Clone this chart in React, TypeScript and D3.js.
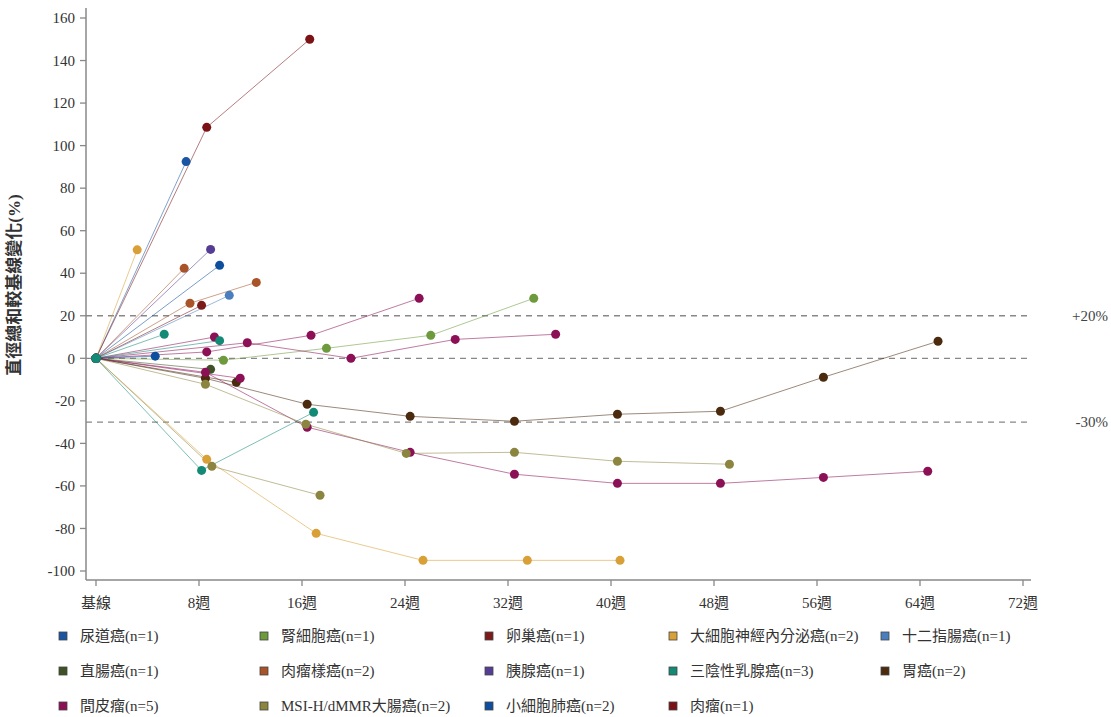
import React from 'react';
import * as d3 from 'd3';

// legend categories and their colours
const cancers = [
  '尿道癌(n=1)', '腎細胞癌(n=1)', '卵巢癌(n=1)', '大細胞神經內分泌癌(n=2)', '十二指腸癌(n=1)',
  '直腸癌(n=1)', '肉瘤樣癌(n=2)', '胰腺癌(n=1)', '三陰性乳腺癌(n=3)', '胃癌(n=2)',
  '間皮瘤(n=5)', 'MSI-H/dMMR大腸癌(n=2)', '小細胞肺癌(n=2)', '肉瘤(n=1)',
];
const colors = [
  '#1a55a3', '#6c9a3c', '#7c1a1a', '#d9a037', '#4a7fbf',
  '#3f5226', '#a85428', '#553c94', '#128a76', '#4b2a0e',
  '#8b1056', '#8c8540', '#0d4f9e', '#7b1315',
];

// [week, % change] per patient
const urothelial = [[0, 0], [7.0, 92.5]];
const renal = [[0, 0], [9.9, -0.9], [17.9, 4.7], [26, 10.8], [34, 28.2]];
const ovarian = [[0, 0], [8.2, 24.9]];
const lcnec1 = [[0, 0], [3.2, 51]];
const lcnec2 = [[0, 0], [8.6, -47.5], [17.1, -82.3], [25.4, -95], [33.5, -95], [40.7, -95]];
const duodenal = [[0, 0], [10.35, 29.6]];
const rectal = [[0, 0], [8.9, -5.2]];
const sarcomatoid1 = [[0, 0], [6.85, 42.3]];
const sarcomatoid2 = [[0, 0], [7.3, 25.9], [12.45, 35.7]];
const pancreatic = [[0, 0], [8.9, 51.2]];
const tnbc1 = [[0, 0], [5.3, 11.3]];
const tnbc2 = [[0, 0], [9.6, 8.3]];
const tnbc3 = [[0, 0], [8.2, -52.7], [16.9, -25.4]];
const gastric1 = [[0, 0], [10.9, -11.3]];
const gastric2 = [[0, 0], [8.5, -9.4], [16.4, -21.6], [24.4, -27.3], [32.5, -29.6], [40.5, -26.3], [48.5, -24.9], [56.5, -8.9], [65.4, 8.0]];
const meso1 = [[0, 0], [11.75, 7.3], [19.8, 0], [27.9, 8.9], [35.7, 11.3]];
const meso2 = [[0, 0], [8.6, 3.0], [16.7, 10.8], [25.1, 28.2]];
const meso3 = [[0, 0], [9.2, 10]];
const meso4 = [[0, 0], [11.2, -9.4]];
const meso5 = [[0, 0], [8.5, -6.6], [16.4, -32.4], [24.4, -44.2], [32.5, -54.5], [40.5, -58.8], [48.5, -58.8], [56.5, -56], [64.6, -53.1]];
const msi1 = [[0, 0], [8.5, -12.2], [16.3, -31], [24.1, -44.7], [32.5, -44.2], [40.5, -48.4], [49.2, -49.8]];
const msi2 = [[0, 0], [9.0, -50.8], [17.4, -64.4]];
const sclc1 = [[0, 0], [9.6, 43.7]];
const sclc2 = [[0, 0], [4.6, 1]];
const sarcoma = [[0, 0], [8.6, 108.6], [16.6, 150]];

// [legend index, data]
const patients: [number, number[][]][] = [
  [0, urothelial], [1, renal], [2, ovarian], [3, lcnec1], [3, lcnec2], [4, duodenal],
  [5, rectal], [6, sarcomatoid1], [6, sarcomatoid2], [7, pancreatic],
  [9, gastric1], [9, gastric2], [10, meso1], [10, meso2], [10, meso3], [10, meso4], [10, meso5],
  [11, msi1], [11, msi2], [12, sclc1], [12, sclc2], [13, sarcoma],
  [8, tnbc1], [8, tnbc2], [8, tnbc3],
];

const xTicks = [0, 8, 16, 24, 32, 40, 48, 56, 64, 72];
const xTickLabels = ['基線', '8週', '16週', '24週', '32週', '40週', '48週', '56週', '64週', '72週'];
const yTicks = [160, 140, 120, 100, 80, 60, 40, 20, 0, -20, -40, -60, -80, -100];
const refLines = [20, 0, -30];
const refLabels = ['+20%', '', '-30%'];

const font = "'Liberation Serif', 'Times New Roman', 'DejaVu Serif', 'Noto Sans CJK TC', serif";

const App = () => {
  const width = 1111;
  const height = 717;
  const axisX = 86;
  const axisY = 580;

  const x = d3.scaleLinear().domain([0, 72]).range([96, 1023]);
  const y = d3.scaleLinear().domain([-100, 160]).range([571, 18]);
  const line = d3.line<number[]>().x(d => x(d[0])).y(d => y(d[1]));

  const legendCols = [63, 264, 489, 673, 885];
  const legendRows = [636, 671, 706];

  return (
    <svg width={width} height={height} fontFamily={font} style={{ position: 'absolute', left: 0, top: 0 }}>
      {/* reference lines */}
      {refLines.map((r, i) => (
        <g key={'ref' + i}>
          <line x1={axisX} x2={r === 0 ? 1032 : 1029} y1={y(r)} y2={y(r)}
            stroke="#888" strokeWidth={1.3} strokeDasharray="6,5" />
          {refLabels[i] && (
            <text x={1108} y={y(r)} dy="0.35em" textAnchor="end" fontSize={15} fill="#444" fontFamily={font}>{refLabels[i]}</text>
          )}
        </g>
      ))}

      {/* axes */}
      <line x1={axisX} x2={axisX} y1={8} y2={axisY} stroke="#888" strokeWidth={1.5} />
      <line x1={axisX} x2={1031} y1={axisY} y2={axisY} stroke="#888" strokeWidth={1.5} />
      {yTicks.map(t => (
        <g key={'y' + t}>
          <line x1={axisX - 6} x2={axisX} y1={y(t)} y2={y(t)} stroke="#888" strokeWidth={1.3} />
          <text x={axisX - 11} y={y(t)} dy="0.35em" textAnchor="end" fontSize={15} fill="#333" fontFamily={font}>{t}</text>
        </g>
      ))}
      {xTicks.map((t, i) => (
        <g key={'x' + t}>
          <line x1={x(t)} x2={x(t)} y1={axisY} y2={axisY + 6} stroke="#888" strokeWidth={1.3} />
          <text x={x(t)} y={axisY + 28} textAnchor="middle" fontSize={15} fill="#333" fontFamily={font}>{xTickLabels[i]}</text>
        </g>
      ))}
      <text transform={`translate(20, 285) rotate(-90)`} textAnchor="middle" fontSize={17}
        fontWeight="bold" fill="#333" fontFamily={font}>直徑總和較基線變化(%)</text>

      {/* patient lines */}
      {patients.map(([c, d], i) => (
        <path key={'l' + i} d={line(d) || ''} fill="none" stroke={colors[c]} strokeOpacity={0.55} strokeWidth={1} />
      ))}
      {patients.map(([c, d], i) => (
        <g key={'p' + i}>
          {d.map((p, j) => (
            <circle key={j} cx={x(p[0])} cy={y(p[1])} r={4.5} fill={colors[c]} />
          ))}
        </g>
      ))}

      {/* legend */}
      {cancers.map((name, i) => {
        const lx = legendCols[i % 5];
        const ly = legendRows[Math.floor(i / 5)];
        return (
          <g key={'lg' + i}>
            <rect x={lx - 4} y={ly - 4} width={8} height={8} fill={colors[i]} stroke="#444" strokeWidth={0.8} />
            <text x={lx + 17} y={ly} dy="0.35em" fontSize={15} fill="#333" fontFamily={font}>{name}</text>
          </g>
        );
      })}
    </svg>
  );
};

export default App;
